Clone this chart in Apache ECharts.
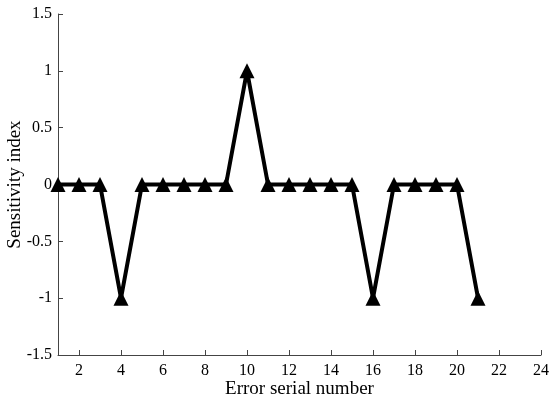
<!DOCTYPE html>
<html>
<head>
<meta charset="utf-8">
<script src="https://cdn.jsdelivr.net/npm/echarts@6/dist/echarts.min.js"></script>
<style>
  html, body { margin: 0; padding: 0; background: #fff; }
  #chart { width: 550px; height: 400px; }
</style>
</head>
<body>
<div id="chart"></div>
<script>
// error serial numbers and their sensitivity index
var serialNumbers = [1, 2, 3, 4, 5, 6, 7, 8, 9, 10, 11, 12, 13, 14, 15, 16, 17, 18, 19, 20, 21];
var sensitivity = [0, 0, 0, -1, 0, 0, 0, 0, 0, 1, 0, 0, 0, 0, 0, -1, 0, 0, 0, 0, -1];
var xTicks = [2, 4, 6, 8, 10, 12, 14, 16, 18, 20, 22, 24];

var chart = echarts.init(document.getElementById("chart"));
var font = "Liberation Serif";
var axisColor = "#444";

chart.setOption({
  animation: false,
  grid: { left: 58, right: 9, top: 14, bottom: 45, outerBoundsMode: "none" },
  xAxis: {
    type: "value",
    min: 1,
    max: 24,
    name: "Error serial number",
    nameLocation: "middle",
    nameGap: 25,
    nameMoveOverlap: false,
    nameTextStyle: { fontFamily: font, fontSize: 19, color: "#000" },
    axisLine: { onZero: false, lineStyle: { color: axisColor } },
    axisTick: { inside: true, length: 5, customValues: xTicks, lineStyle: { color: axisColor } },
    axisLabel: { customValues: xTicks, fontFamily: font, fontSize: 16, color: "#000", margin: 8 },
    splitLine: { show: false }
  },
  yAxis: {
    type: "value",
    min: -1.5,
    max: 1.5,
    interval: 0.5,
    name: "Sensitivity index",
    nameLocation: "middle",
    nameGap: 33,
    nameMoveOverlap: false,
    nameTextStyle: { fontFamily: font, fontSize: 19, color: "#000" },
    axisLine: { show: true, onZero: false, lineStyle: { color: axisColor } },
    axisTick: { show: true, inside: true, length: 5, lineStyle: { color: axisColor } },
    axisLabel: { fontFamily: font, fontSize: 16, color: "#000", margin: 6 },
    splitLine: { show: false }
  },
  series: [{
    type: "line",
    data: serialNumbers.map(function (x, i) { return [x, sensitivity[i]]; }),
    symbol: "triangle",
    symbolSize: 15,
    lineStyle: { color: "#000", width: 4 },
    itemStyle: { color: "#000" }
  }]
});
</script>
</body>
</html>
